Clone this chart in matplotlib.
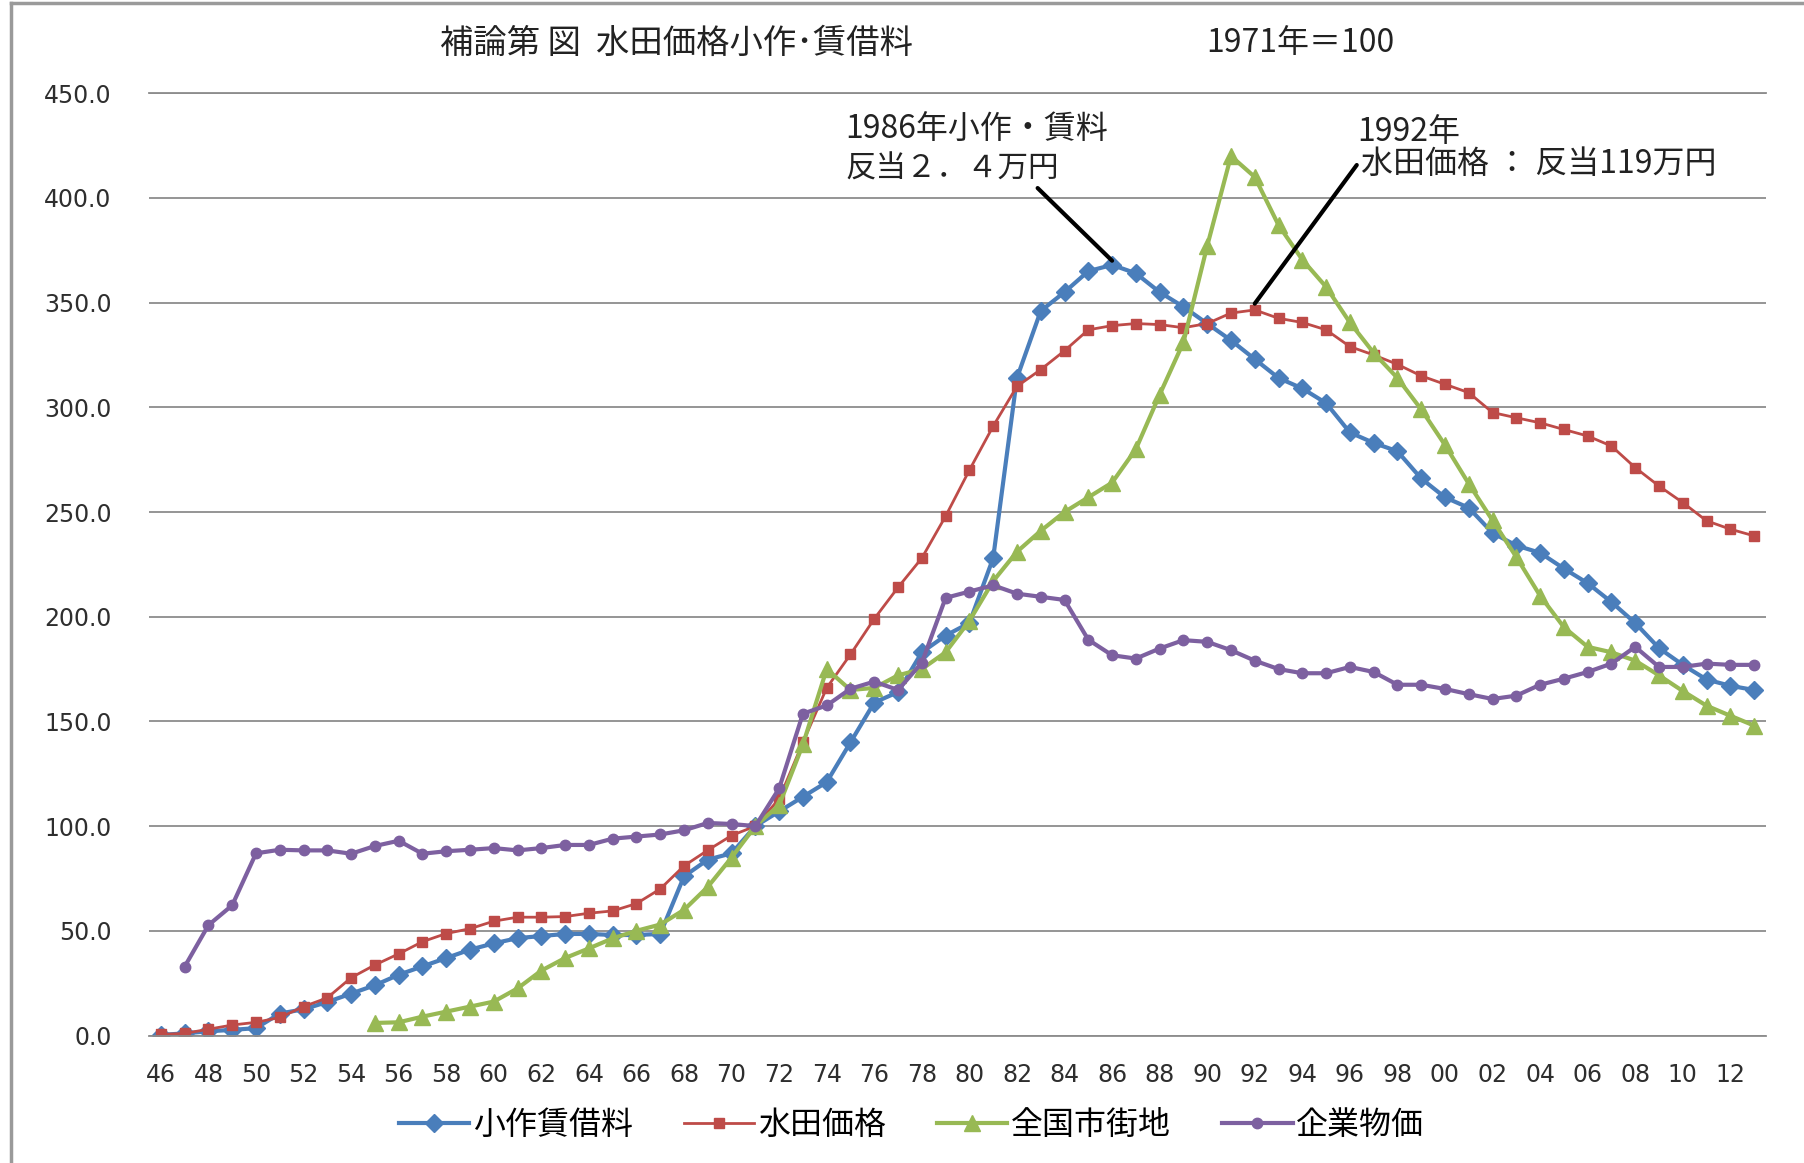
import matplotlib
matplotlib.use("Agg")
import matplotlib.pyplot as plt
from matplotlib.lines import Line2D
import numpy as np

plt.rcParams['font.family'] = ['Noto Sans CJK JP', 'DejaVu Sans']

# ---- data (1971 = 100) ----
years = list(range(1946, 2014))
tick_years = list(range(1946, 2014, 2))
tick_labels = [f"{y % 100:02d}" for y in tick_years]
y_ticks = [0, 50, 100, 150, 200, 250, 300, 350, 400, 450]

nan = np.nan

# 小作賃借料 (farmland rent)
rent = [0.3, 1, 2, 2.7, 3.5, 10.5, 12.5, 16, 20, 24,
        29, 33, 37, 41, 44, 46.5, 47.5, 48.5, 48.5, 48,
        48, 48.5, 76, 84, 87, 100, 107, 114, 121, 140,
        159, 164, 183, 191, 197, 228, 314, 346, 355, 365,
        368, 364, 355, 348, 340, 332, 323, 314, 309, 302,
        288, 283, 279, 266, 257, 252, 240, 234, 230.5, 223,
        216, 207, 197, 185, 177, 170, 167, 165]

# 水田価格 (paddy field price)
paddy = [0.5, 1, 3, 5, 6.3, 8.6, 13.8, 18, 27.6, 33.7,
         39, 44.8, 48.7, 51, 54.6, 56.5, 56.5, 56.8, 58.4, 59.5,
         63, 70, 81, 88.5, 95.5, 100, 113, 140, 166, 182,
         199, 214, 228, 248, 270, 291, 310, 318, 327, 337,
         339, 340, 339.5, 338, 340, 345, 346.5, 342.5, 340.5, 337,
         329, 325, 320.5, 315, 311, 307, 297.5, 295, 292.6, 289.4,
         286.3, 281.5, 271.2, 262.4, 254.5, 245.8, 241.8, 238.6]

# 全国市街地 (urban land, nationwide)
urban = [nan, nan, nan, nan, nan, nan, nan, nan, nan, 6,
         6.3, 9, 11.4, 13.8, 16.2, 22.5, 31, 37, 41.6, 46.4,
         50, 53, 60, 71, 85, 100, 110, 139, 175, 165,
         166, 172, 175, 183, 198, 217, 231, 241, 250, 257,
         264, 280, 306, 331, 377, 420, 410, 387, 370.5, 357.5,
         340.5, 326, 314, 299, 282, 263.5, 246, 228.5, 210, 195,
         185.6, 183, 179, 172, 164.5, 157.5, 152.7, 148]

# 企業物価 (corporate goods price index)
wpi = [nan, 32.9, 52.7, 62.2, 87, 88.7, 88.4, 88.4, 86.8, 90.5,
       93, 86.8, 88, 88.7, 89.5, 88.4, 89.5, 91, 91, 94,
       95, 96, 98, 101.5, 101, 100, 118, 153.7, 157.6, 165.6,
       169, 165, 178, 209, 212, 215, 211, 209.5, 208, 189,
       181.6, 180, 184.8, 188.8, 188, 184, 179, 175, 173, 173,
       176, 173.6, 167.5, 167.5, 165.5, 163, 160.7, 162.3, 167.5, 170.4,
       173.6, 177.6, 185.6, 176, 176, 177.6, 177, 177]

series_names = ["小作賃借料", "水田価格", "全国市街地", "企業物価"]

# ---- figure ----
W, H = 1804, 1163
fig = plt.figure(figsize=(W / 100, H / 100), dpi=100)
fig.patch.set_facecolor("white")

left, right = 149, 1766
bottom, top = 1035.5, 93.2
ax = fig.add_axes([left / W, 1 - bottom / H, (right - left) / W, (bottom - top) / H])

x = np.arange(len(years))
styles = [
    dict(color="#4A7EBB", marker="D", markersize=9.5, linewidth=3.0),
    dict(color="#BE4B48", marker="s", markersize=7.5, linewidth=2.0),
    dict(color="#98B954", marker="^", markersize=12, linewidth=3.0),
    dict(color="#7D60A0", marker="o", markersize=7.5, linewidth=3.0),
]
handles = []
for vals, name, st in zip([rent, paddy, urban, wpi], series_names, styles):
    ln, = ax.plot(x, np.array(vals, dtype=float), label=name,
                  markeredgecolor=st["color"], markerfacecolor=st["color"],
                  solid_joinstyle="round", **st)
    handles.append(ln)

ax.set_xlim(-0.5, len(years) - 0.5)
ax.set_ylim(0, 450)
ax.set_yticks(y_ticks)
ax.set_yticklabels([f"{v:.1f}" for v in y_ticks])
ax.set_xticks([years.index(y) for y in tick_years])
ax.set_xticklabels(tick_labels)

ax.yaxis.grid(True, color="#8c8c8c", linewidth=1.3)
ax.set_axisbelow(True)
for side in ["left", "right"]:
    ax.spines[side].set_visible(False)
for side in ["top", "bottom"]:
    ax.spines[side].set_color("#8c8c8c")
    ax.spines[side].set_linewidth(1.3)

ax.tick_params(axis="both", length=0, colors="#333333")
ax.tick_params(axis="y", pad=27)
ax.tick_params(axis="x", pad=20)
for lab in ax.get_yticklabels() + ax.get_xticklabels():
    lab.set_fontfamily("DejaVu Sans")
    lab.set_fontsize(17)
    lab.set_color("#2e2e2e")

# ---- annotations ----
i86 = years.index(1986)
i92 = years.index(1992)
ax.annotate("", xy=(i86, rent[i86] + 2), xytext=(36.87, 404.7),
            arrowprops=dict(arrowstyle="-", color="black", lw=3,
                            shrinkA=0, shrinkB=0))
ax.text(28.8, 432.4, "1986年小作・賃料", fontsize=23, ha="left", va="center",
        color="#222222")
ax.text(28.8, 414.0, "反当２．４万円", fontsize=22, ha="left", va="center",
        color="#222222")

ax.annotate("", xy=(i92, paddy[i92] + 3), xytext=(50.29, 415.7),
            arrowprops=dict(arrowstyle="-", color="black", lw=3,
                            shrinkA=0, shrinkB=0))
ax.text(50.3, 431.5, "1992年", fontsize=23, ha="left", va="center",
        color="#222222")
ax.text(50.45, 416.2, "水田価格 ： 反当119万円", fontsize=23, ha="left",
        va="center", color="#222222")

# ---- titles ----
fig.text(677 / W, 1 - 43 / H, "補論第 図  水田価格小作･賃借料", fontsize=24,
         ha="center", va="center", color="#222222")
fig.text(1300 / W, 1 - 43 / H, "1971年＝100", fontsize=23,
         ha="center", va="center", color="#222222")

# ---- legend ----
fig.legend(handles=handles, labels=series_names, loc="center",
           bbox_to_anchor=(911.5 / W, 1 - 1125 / H), ncol=4, frameon=False,
           fontsize=23, handlelength=2.2, handletextpad=0.12,
           columnspacing=1.6, numpoints=1)

# ---- outer frame (left and top edges) ----
fig.add_artist(Line2D([11 / W, 11 / W], [0, 1 - 3 / H], transform=fig.transFigure,
                      color="#9a9a9a", linewidth=2.5))
fig.add_artist(Line2D([11 / W, 1], [1 - 3 / H, 1 - 3 / H], transform=fig.transFigure,
                      color="#9a9a9a", linewidth=2.5))

fig.savefig("out.png", dpi=100, facecolor="white")
